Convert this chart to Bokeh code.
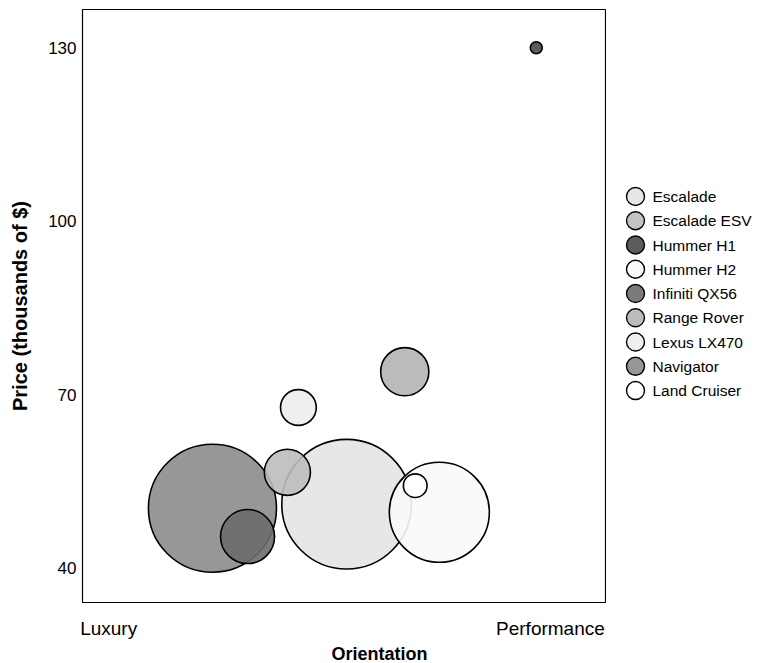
import math
from bokeh.plotting import figure
from bokeh.layouts import row
from bokeh.models import Range1d, FixedTicker, ColumnDataSource, Title
from bokeh.core.properties import value
from bokeh.embed import file_html
from bokeh.resources import INLINE

# ---- data ----
cars = ["Escalade", "Escalade ESV", "Hummer H1", "Hummer H2", "Infiniti QX56",
        "Range Rover", "Lexus LX470", "Navigator", "Land Cruiser"]
orientation = [5.04, 3.91, 8.66, 6.81, 3.15, 6.15, 4.12, 2.48, 6.35]
price = [51.1, 56.6, 130.0, 49.7, 45.5, 74.0, 67.8, 50.4, 54.3]
sales = [42.0, 5.3, 0.36, 25.0, 7.3, 5.8, 3.2, 41.0, 1.4]
shade = ["#e4e4e4", "#bdbdbd", "#4a4a4a", "#fafafa", "#6c6c6c",
         "#b4b4b4", "#ededed", "#8c8c8c", "#ffffff"]
orient_ticks = [0.5, 8.93]
orient_labels = ["Luxury", "Performance"]
price_ticks = [40, 70, 100, 130]

FONT = "Liberation Sans"
H = 663

p = figure(width=606, height=H,
           x_range=Range1d(0, 10), y_range=Range1d(34.1, 136.6),
           output_backend="svg", toolbar_location=None,
           min_border_left=82, min_border_top=9, min_border_right=0,
           min_border_bottom=61)
p.grid.visible = False
p.outline_line_color = "black"
p.outline_line_width = 1.2
p.background_fill_color = "white"
p.border_fill_color = "white"

# y axis
p.yaxis.ticker = FixedTicker(ticks=price_ticks)
p.yaxis.axis_label = "Price (thousands of $)"
p.yaxis.axis_line_color = None
p.yaxis.major_tick_line_color = None
p.yaxis.minor_tick_line_color = None
p.yaxis.major_tick_out = 0
p.yaxis.major_label_standoff = 6
p.yaxis.axis_label_standoff = 14
p.yaxis.major_label_text_font_size = "17px"
p.yaxis.axis_label_text_font_size = "20px"

# x axis
p.xaxis.ticker = FixedTicker(ticks=orient_ticks)
p.xaxis.major_label_overrides = {t: l for t, l in zip(orient_ticks, orient_labels)}
p.xaxis.axis_line_color = None
p.xaxis.major_tick_line_color = None
p.xaxis.minor_tick_line_color = None
p.xaxis.major_tick_out = 0
p.xaxis.major_label_standoff = 15
p.xaxis.major_label_text_font_size = "19px"

for ax in (p.xaxis, p.yaxis):
    ax.major_label_text_font = FONT
    ax.major_label_text_color = "black"
    ax.axis_label_text_font = FONT
    ax.axis_label_text_font_style = "bold"
    ax.axis_label_text_color = "black"

xtitle = Title(text="Orientation", align="left", offset=249, standoff=0,
               text_font=FONT, text_font_size="18px", text_font_style="bold",
               text_color="black")
p.add_layout(xtitle, "below")

# bubbles: biggest first so the small ones stay visible
order = sorted(range(len(cars)), key=lambda i: -sales[i])
src = ColumnDataSource(dict(
    x=[orientation[i] for i in order],
    y=[price[i] for i in order],
    s=[20 * math.sqrt(sales[i]) for i in order],
    c=[shade[i] for i in order],
))
p.scatter("x", "y", size="s", source=src, marker="circle",
          fill_color="c", fill_alpha=0.9,
          line_color="black", line_width=1.6)

# ---- legend panel (one row per car, in legend order) ----
leg_rank = list(range(len(cars)))
leg = figure(width=166, height=H, x_range=Range1d(0, 166),
             y_range=Range1d(16.74, -7.71),
             output_backend="svg", toolbar_location=None,
             min_border_left=0, min_border_right=0,
             min_border_top=9, min_border_bottom=61,
             x_axis_type=None, y_axis_type=None)
leg.grid.visible = False
leg.outline_line_color = None
leg.background_fill_color = "white"
leg.border_fill_color = "white"
lsrc = ColumnDataSource(dict(r=leg_rank, name=cars, c=shade,
                             gx=[29] * len(cars), tx=[46] * len(cars)))
leg.scatter("gx", "r", size=18, source=lsrc, marker="circle",
            fill_color="c", fill_alpha=0.9, line_color="black", line_width=1.4)
leg.text("tx", "r", text="name", source=lsrc,
         text_font=value(FONT), text_font_size="15.5px",
         text_baseline="middle", text_align="left", text_color="black")

layout = row(p, leg, spacing=0)
open("out.html", "w").write(file_html(layout, INLINE))
